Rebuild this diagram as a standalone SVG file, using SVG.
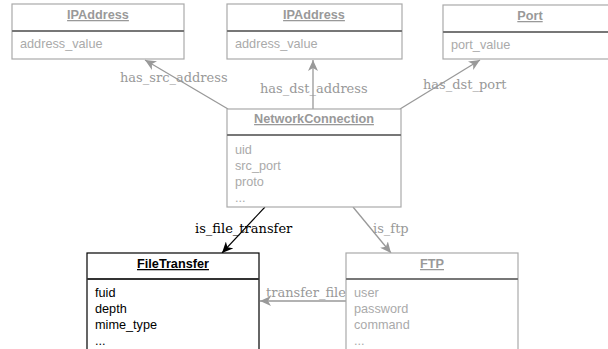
<svg xmlns="http://www.w3.org/2000/svg" width="608" height="349" viewBox="0 0 608 349">
<defs>
<marker id="ag" markerWidth="12" markerHeight="10" refX="11" refY="5" orient="auto" markerUnits="userSpaceOnUse">
<path d="M0,0 L11,5 L0,10 L3,5 Z" fill="#999"/>
</marker>
<marker id="ab" markerWidth="12" markerHeight="10" refX="11" refY="5" orient="auto" markerUnits="userSpaceOnUse">
<path d="M0,0 L11,5 L0,10 L3,5 Z" fill="#000"/>
</marker>
</defs>
<style>
.box{fill:#fff;stroke:#aaa;stroke-width:1.2}
.sep{stroke:#777;stroke-width:2}
.hd{font-family:"Liberation Sans",Arial,sans-serif;font-size:12.7px;font-weight:bold;fill:#999;text-anchor:middle;text-decoration:underline}
.at{font-family:"Liberation Sans",Arial,sans-serif;font-size:12.7px;fill:#aaa}
.bbox{fill:#fff;stroke:#000;stroke-width:1.2}
.bsep{stroke:#333;stroke-width:2}
.bhd{font-family:"Liberation Sans",Arial,sans-serif;font-size:12.7px;font-weight:bold;fill:#000;text-anchor:middle;text-decoration:underline}
.bat{font-family:"Liberation Sans",Arial,sans-serif;font-size:12.7px;fill:#000}
.cg{stroke:#999;stroke-width:1.3;fill:none;marker-end:url(#ag)}
.cb{stroke:#000;stroke-width:1.1;fill:none;marker-end:url(#ab)}
.lg{font-family:"DejaVu Serif","Liberation Serif",serif;font-size:13px;fill:#999}
.lb{font-family:"DejaVu Serif","Liberation Serif",serif;font-size:13px;fill:#000}
</style>
<g id="connectors">
<text class="lg" x="120" y="82">has_src_address</text>
<text class="lg" x="260" y="93">has_dst_address</text>
<text class="lg" x="423" y="89">has_dst_port</text>
<text class="lb" x="195" y="233">is_file_transfer</text>
<text class="lg" x="373" y="233">is_ftp</text>
<text class="lg" x="266" y="297">transfer_file</text>
<line class="cg" x1="228" y1="109" x2="145" y2="60"/>
<line class="cg" x1="313" y1="109" x2="313" y2="60"/>
<line class="cg" x1="400" y1="109" x2="480" y2="60"/>
<line class="cb" x1="265" y1="207" x2="222" y2="253"/>
<line class="cg" x1="353" y1="207" x2="391" y2="253"/>
<line class="cg" x1="346" y1="301" x2="260" y2="301"/>
</g>
<g id="ipaddress1">
<rect class="box" x="12" y="4" width="172" height="55"/>
<line class="sep" x1="12" y1="31" x2="184" y2="31"/>
<text class="hd" x="98" y="19">IPAddress</text>
<text class="at" x="20" y="48">address_value</text>
</g>
<g id="ipaddress2">
<rect class="box" x="227" y="4" width="175" height="55"/>
<line class="sep" x1="227" y1="31" x2="402" y2="31"/>
<text class="hd" x="314" y="19">IPAddress</text>
<text class="at" x="235" y="48">address_value</text>
</g>
<g id="port">
<rect class="box" x="443" y="5" width="172" height="54"/>
<line class="sep" x1="443" y1="32" x2="615" y2="32"/>
<text class="hd" x="530" y="20">Port</text>
<text class="at" x="451" y="49">port_value</text>
</g>
<g id="networkconnection">
<rect class="box" x="227" y="109" width="174" height="98"/>
<line class="sep" x1="227" y1="135" x2="401" y2="135"/>
<text class="hd" x="314" y="123">NetworkConnection</text>
<text class="at" x="235" y="154">uid</text>
<text class="at" x="235" y="170">src_port</text>
<text class="at" x="235" y="186">proto</text>
<text class="at" x="235" y="202">...</text>
</g>
<g id="filetransfer">
<rect class="bbox" x="87" y="253" width="172" height="110"/>
<line class="bsep" x1="87" y1="279" x2="259" y2="279"/>
<text class="bhd" x="173" y="268">FileTransfer</text>
<text class="bat" x="95" y="297">fuid</text>
<text class="bat" x="95" y="313">depth</text>
<text class="bat" x="95" y="329">mime_type</text>
<text class="bat" x="95" y="345">...</text>
</g>
<g id="ftp">
<rect class="box" x="346" y="253" width="172" height="110"/>
<line class="sep" x1="346" y1="279" x2="518" y2="279"/>
<text class="hd" x="432" y="268">FTP</text>
<text class="at" x="354" y="297">user</text>
<text class="at" x="354" y="313">password</text>
<text class="at" x="354" y="329">command</text>
<text class="at" x="354" y="345">...</text>
</g>
</svg>
